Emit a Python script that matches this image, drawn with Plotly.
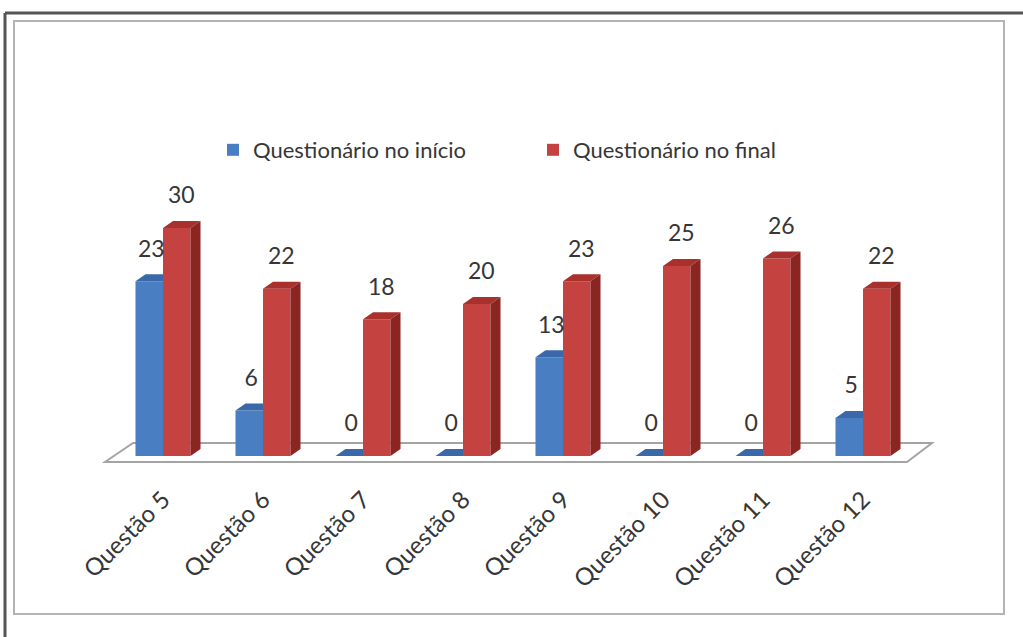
import plotly.graph_objects as go

# Survey results per question: answers at the start and at the end
categories = ["Questão 5", "Questão 6", "Questão 7", "Questão 8",
              "Questão 9", "Questão 10", "Questão 11", "Questão 12"]
inicio = [23, 6, 0, 0, 13, 0, 0, 5]
final = [30, 22, 18, 20, 23, 25, 26, 22]

series_names = ["Questionário no início", "Questionário no final"]

# Colours: front, top and side faces of the 3-D looking columns
BLUE = dict(front="#4a7ec2", top="#3a68a8", side="#2d5589")
RED = dict(front="#c4423f", top="#a8302d", side="#8a2522")

W, H = 1023, 637
ML, MR, MT, MB = 100, 83, 180, 157
PW, PH = W - ML - MR, H - MT - MB

FONT = "Lato"
TEXT_COLOR = "#363636"

BAR_W = 0.275      # width of a column front face (category units)
DX, DY = 0.10, 0.92  # depth offset of the 3-D extrusion (x units, value units)


def px2x(px):
    return (px - ML) / PW


def py2y(py):
    return (H - MB - py) / PH


idx = list(range(len(categories)))
fig = go.Figure()

# Front faces as ordinary bars
fig.add_trace(go.Bar(x=idx, y=inicio, offset=-BAR_W, width=BAR_W,
                     name=series_names[0], marker=dict(color=BLUE["front"], line_width=0)))
fig.add_trace(go.Bar(x=idx, y=final, offset=0, width=BAR_W,
                     name=series_names[1], marker=dict(color=RED["front"], line_width=0)))


def poly(xs, ys, color):
    fig.add_trace(go.Scatter(x=xs + [xs[0]], y=ys + [ys[0]], mode="lines",
                             fill="toself", fillcolor=color,
                             line=dict(width=0, color=color),
                             hoverinfo="skip", showlegend=False))


for i in idx:
    # blue column: top face only (its side is hidden by the red column)
    v = inicio[i]
    x0, x1 = i - BAR_W, i
    poly([x0, x0 + DX, x1, x1], [v, v + DY, v + DY, v], BLUE["top"])
    # red column: top and right side
    v = final[i]
    x0, x1 = i, i + BAR_W
    poly([x0, x0 + DX, x1 + DX, x1], [v, v + DY, v + DY, v], RED["top"])
    poly([x1, x1 + DX, x1 + DX, x1], [0, DY, v + DY, v], RED["side"])

# Value labels above each column
fig.add_trace(go.Scatter(x=[i - BAR_W / 2 + 0.02 for i in idx],
                         y=[v + 4.0 for v in inicio],
                         text=[str(v) for v in inicio], mode="text",
                         textposition="middle center",
                         textfont=dict(family=FONT, size=23, color=TEXT_COLOR),
                         hoverinfo="skip", showlegend=False))
fig.add_trace(go.Scatter(x=[i + BAR_W / 2 + 0.045 for i in idx],
                         y=[v + 4.0 for v in final],
                         text=[str(v) for v in final], mode="text",
                         textposition="middle center",
                         textfont=dict(family=FONT, size=23, color=TEXT_COLOR),
                         hoverinfo="skip", showlegend=False))

shapes = [
    # floor of the 3-D plot
    dict(type="path", xref="x", yref="y", layer="below",
         path="M -0.58,-0.79 L -0.30,1.71 L 7.69,1.71 L 7.44,-0.79 Z",
         fillcolor="white", line=dict(color="#a4a4a4", width=2)),
    # inner chart frame
    dict(type="rect", xref="paper", yref="paper",
         x0=px2x(14), x1=px2x(1004), y0=py2y(614), y1=py2y(21),
         line=dict(color="#b4b4b4", width=2)),
    # outer frame (top and left)
    dict(type="line", xref="paper", yref="paper",
         x0=px2x(5), x1=px2x(1023), y0=py2y(13), y1=py2y(13),
         line=dict(color="#555555", width=3)),
    dict(type="line", xref="paper", yref="paper",
         x0=px2x(5), x1=px2x(5), y0=py2y(13), y1=py2y(637),
         line=dict(color="#555555", width=3)),
]

fig.update_layout(
    width=W, height=H,
    margin=dict(l=ML, r=MR, t=MT, b=MB),
    paper_bgcolor="white", plot_bgcolor="white",
    barmode="overlay",
    shapes=shapes,
    font=dict(family=FONT, color=TEXT_COLOR),
    legend=dict(orientation="h", x=px2x(533), y=py2y(150),
                xanchor="center", yanchor="middle",
                entrywidth=275, entrywidthmode="pixels",
                font=dict(family=FONT, size=22, color=TEXT_COLOR),
                itemsizing="constant", traceorder="normal"),
    xaxis=dict(range=[-0.63, 7.77], tickmode="array", tickvals=idx,
               ticktext=categories, tickangle=-45, showgrid=False,
               zeroline=False, showline=False, ticks="",
               tickfont=dict(family=FONT, size=24, color=TEXT_COLOR)),
    yaxis=dict(range=[-3.158, 36.316], visible=False, showgrid=False,
               zeroline=False),
)

fig.write_html("out.html")
